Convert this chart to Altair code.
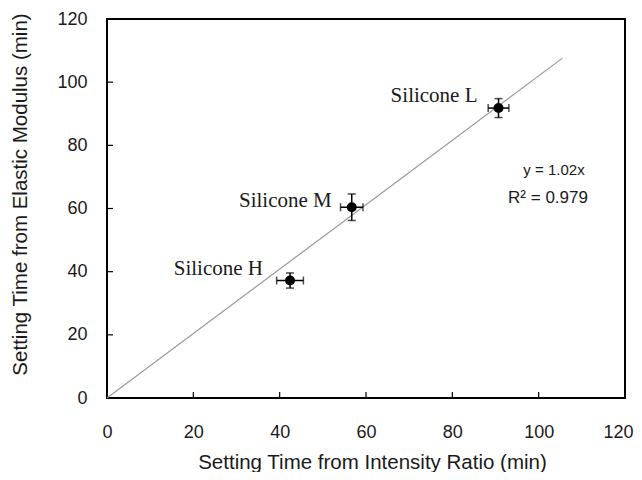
import altair as alt
import pandas as pd

# ---- data ----
names = ["Silicone H", "Silicone M", "Silicone L"]
x_ratio = [42.4, 56.7, 90.7]      # setting time from intensity ratio (min)
y_modulus = [37.2, 60.4, 91.8]    # setting time from elastic modulus (min)
x_err = [3.1, 2.6, 2.4]
y_err = [2.4, 4.2, 3.0]

trend_x = [0, 105.5]
slope = 1.02
r2 = 0.979

tick_values = [0, 20, 40, 60, 80, 100, 120]
inner_ticks = [20, 40, 60, 80, 100]

df = pd.DataFrame({"name": names, "x": x_ratio, "y": y_modulus, "xe": x_err, "ye": y_err})
df["xlo"] = df["x"] - df["xe"]
df["xhi"] = df["x"] + df["xe"]
df["ylo"] = df["y"] - df["ye"]
df["yhi"] = df["y"] + df["ye"]

trend = pd.DataFrame({"x": trend_x})
trend["y"] = slope * trend["x"]

W, H = 518, 379
FONT = "Liberation Sans"
SERIF = "Liberation Serif"
TXT = "#1a1a1a"

xscale = alt.Scale(domain=[0, 120], nice=False, zero=True)
yscale = alt.Scale(domain=[0, 120], nice=False, zero=True)

xaxis = alt.Axis(values=tick_values, ticks=False, domain=False, grid=False,
                 labelFont=FONT, labelFontSize=18, labelColor=TXT, labelPadding=25,
                 labelBaseline="top", labelFlush=False,
                 labelAlign={"condition": {"test": "datum.value == 120", "value": "right"},
                             "value": "center"},
                 labelOffset={"condition": {"test": "datum.value == 120", "value": 8},
                              "value": 0},
                 title="Setting Time from Intensity Ratio (min)", titleFont=FONT,
                 titleFontSize=20.5, titleFontWeight="normal", titleColor=TXT,
                 titleY=64, titleBaseline="middle", titleAlign="center", titleX=W / 2 + 6)
yaxis = alt.Axis(values=tick_values, ticks=False, domain=False, grid=False,
                 labelFont=FONT, labelFontSize=18, labelColor=TXT, labelPadding=20,
                 labelFlush=False,
                 title="Setting Time from Elastic Modulus (min)", titleFont=FONT,
                 titleFontSize=20.5, titleFontWeight="normal", titleColor=TXT,
                 titleX=-87, titleY=175, titleBaseline="middle", titleAlign="center")

base = alt.Chart(df)

trend_line = alt.Chart(trend).mark_line(color="#9a9a9a", strokeWidth=1.2).encode(
    x=alt.X("x:Q", scale=xscale, axis=xaxis),
    y=alt.Y("y:Q", scale=yscale, axis=yaxis),
)

xbar = base.mark_rule(color="black", strokeWidth=1.5).encode(
    x=alt.X("xlo:Q", scale=xscale), x2="xhi:Q", y=alt.Y("y:Q", scale=yscale))
ybar = base.mark_rule(color="black", strokeWidth=1.5).encode(
    y=alt.Y("ylo:Q", scale=yscale), y2="yhi:Q", x=alt.X("x:Q", scale=xscale))

cap_xlo = base.mark_tick(orient="vertical", size=8, thickness=1.5, color="black").encode(
    x=alt.X("xlo:Q", scale=xscale), y=alt.Y("y:Q", scale=yscale))
cap_xhi = base.mark_tick(orient="vertical", size=8, thickness=1.5, color="black").encode(
    x=alt.X("xhi:Q", scale=xscale), y=alt.Y("y:Q", scale=yscale))
cap_ylo = base.mark_tick(orient="horizontal", size=8, thickness=1.5, color="black").encode(
    x=alt.X("x:Q", scale=xscale), y=alt.Y("ylo:Q", scale=yscale))
cap_yhi = base.mark_tick(orient="horizontal", size=8, thickness=1.5, color="black").encode(
    x=alt.X("x:Q", scale=xscale), y=alt.Y("yhi:Q", scale=yscale))

points = base.mark_circle(size=100, color="black", opacity=1).encode(
    x=alt.X("x:Q", scale=xscale), y=alt.Y("y:Q", scale=yscale))

label_offsets = {"Silicone H": (-27, -6), "Silicone M": (-20, 0), "Silicone L": (-21, -6)}
labels = []
for nm, (ddx, ddy) in label_offsets.items():
    labels.append(
        base.transform_filter(alt.datum.name == nm).mark_text(
            font=SERIF, fontSize=21, color=TXT, align="right", baseline="alphabetic",
            dx=ddx, dy=ddy).encode(
            x=alt.X("x:Q", scale=xscale), y=alt.Y("y:Q", scale=yscale), text="name:N")
    )

eq1 = alt.Chart(pd.DataFrame({"t": [f"y = {slope:.2f}x"]})).mark_text(
    font=FONT, fontSize=15, color=TXT, align="center", baseline="alphabetic").encode(
    x=alt.value(447), y=alt.value(156), text="t:N")
eq2 = alt.Chart(pd.DataFrame({"t": [f"R\u00b2 = {r2}"]})).mark_text(
    font=FONT, fontSize=17, color=TXT, align="center", baseline="alphabetic").encode(
    x=alt.value(441), y=alt.value(184), text="t:N")

tdf = pd.DataFrame({"v": inner_ticks})
xticks = alt.Chart(tdf).mark_rule(color="black", strokeWidth=1.2).encode(
    x=alt.X("v:Q", scale=xscale), y=alt.value(H), y2=alt.value(H - 6))
yticks = alt.Chart(tdf).mark_rule(color="black", strokeWidth=1.2).encode(
    y=alt.Y("v:Q", scale=yscale), x=alt.value(0), x2=alt.value(6))

chart = alt.layer(
    trend_line, xticks, yticks, xbar, ybar, cap_xlo, cap_xhi, cap_ylo, cap_yhi, points,
    *labels, eq1, eq2,
).properties(
    width=W, height=H,
    padding={"left": 99, "top": 11, "right": 9, "bottom": 74},
    autosize="none",
).configure(
    background="white"
).configure_view(
    stroke="black", strokeWidth=2
)

chart.save("out.html", embed_options={"renderer": "svg", "actions": False})
